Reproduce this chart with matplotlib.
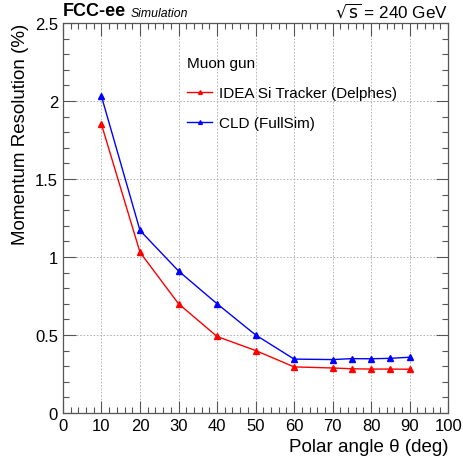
import matplotlib
matplotlib.use("Agg")
import matplotlib.pyplot as plt
from matplotlib.ticker import MultipleLocator

plt.rcParams["font.family"] = ["Liberation Sans", "DejaVu Sans"]

# Datos
angulos = [10, 20, 30, 40, 50, 60, 70, 75, 80, 85, 90]
res_idea = [1.85, 1.03, 0.70, 0.49, 0.40, 0.295, 0.288, 0.283, 0.281, 0.281, 0.280]
res_cld = [2.03, 1.17, 0.91, 0.70, 0.50, 0.345, 0.342, 0.348, 0.347, 0.350, 0.357]

etiqueta_idea = "IDEA Si Tracker (Delphes)"
etiqueta_cld = "CLD (FullSim)"

fig = plt.figure(figsize=(4.63, 4.64), dpi=100)
ax = fig.add_axes([0.136, 0.108, 0.832, 0.840])

ax.plot(angulos, res_idea, "-^", color="#ff0000", lw=1.0, ms=4.5, label=etiqueta_idea)
ax.plot(angulos, res_cld, "-^", color="#0000ff", lw=1.0, ms=4.5, label=etiqueta_cld)

ax.set_xlim(0, 100)
ax.set_ylim(0, 2.5)
ax.xaxis.set_major_locator(MultipleLocator(10))
ax.xaxis.set_minor_locator(MultipleLocator(2))
ax.yaxis.set_minor_locator(MultipleLocator(0.1))
ax.set_yticks([0, 0.5, 1, 1.5, 2, 2.5])
ax.set_yticklabels(["0", "0.5", "1", "1.5", "2", "2.5"])

ax.tick_params(which="both", direction="in", top=True, right=True, labelsize=12, color="#555555")
ax.tick_params(which="major", length=9, width=0.8)
ax.tick_params(which="minor", length=4.5, width=0.8)
for s in ax.spines.values():
    s.set_color("#555555")
    s.set_linewidth(0.9)

ax.grid(True, which="major", linestyle=(0, (2, 2)), color="#aaaaaa", linewidth=0.6)

ax.set_xlabel("Polar angle θ (deg)", fontsize=13.5, loc="right")
ax.set_ylabel("Momentum Resolution (%)", fontsize=13.5, loc="top")

fig.text(0.136, 0.956, "FCC-ee", fontsize=13, fontweight="bold", ha="left", va="bottom")
fig.text(0.283, 0.956, "Simulation", fontsize=8.8, style="italic", ha="left", va="bottom")
fig.text(0.968, 0.956, r"$\sqrt{\mathrm{s}}$ = 240 GeV", fontsize=12.3, ha="right", va="bottom")

leg = ax.legend(loc="upper left", bbox_to_anchor=(0.287, 0.95), title="Muon gun",
                frameon=False, fontsize=11, title_fontsize=11, handlelength=1.65,
                handletextpad=0.45, labelspacing=1.05, alignment="left", markerscale=0.6)

fig.savefig("out.png", dpi=100)
